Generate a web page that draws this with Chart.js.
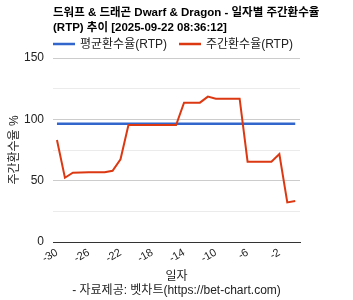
<!DOCTYPE html>
<html>
<head>
<meta charset="utf-8">
<script src="https://cdn.jsdelivr.net/npm/chart.js@4/dist/chart.umd.min.js"></script>
<style>
  html, body { margin: 0; padding: 0; background: #fff; }
  #wrap { width: 353px; height: 300px; }
</style>
</head>
<body>
<div id="wrap"><canvas id="myChart"></canvas></div>
<script>
// chart data
const days = [-30, -29, -28, -27, -26, -25, -24, -23, -22, -21, -20, -19, -18, -17, -16, -15,
              -14, -13, -12, -11, -10, -9, -8, -7, -6, -5, -4, -3, -2, -1, 0];
const avgRtp = [96.4, 96.4, 96.4, 96.4, 96.4, 96.4, 96.4, 96.4, 96.4, 96.4, 96.4, 96.4, 96.4, 96.4, 96.4, 96.4,
                96.4, 96.4, 96.4, 96.4, 96.4, 96.4, 96.4, 96.4, 96.4, 96.4, 96.4, 96.4, 96.4, 96.4, 96.4];
const weeklyRtp = [83.2, 52.4, 56.5, 56.6, 56.8, 56.8, 56.9, 58.1, 67.4, 95.4, 95.4, 95.4, 95.4, 95.4, 95.4, 95.4,
                   113.6, 113.6, 113.6, 118.5, 116.8, 116.8, 116.8, 116.8, 65.5, 65.5, 65.5, 65.5, 71.7, 32.3, 33.4];
const xTicks = [-30, -26, -22, -18, -14, -10, -6, -2];
const yTicks = [0, 25, 50, 75, 100, 125, 150];
const seriesNames = ['평균환수율(RTP)', '주간환수율(RTP)'];
const titleLines = ['드워프 & 드래곤 Dwarf & Dragon - 일자별 주간환수율', '(RTP) 추이 [2025-09-22 08:36:12]'];

const FONT = "'Liberation Sans', Arial, 'Noto Sans CJK KR', sans-serif";

// title + legend drawn above the plot, left aligned with the chart area
const header = {
  id: 'header',
  afterDraw(chart) {
    const ctx = chart.ctx;
    const left = chart.chartArea.left;
    ctx.save();
    ctx.textBaseline = 'middle';
    ctx.fillStyle = '#000';
    ctx.font = `bold 11.5px ${FONT}`;
    titleLines.forEach((t, i) => ctx.fillText(t, left, 13 + i * 14.5));

    ctx.font = `12px ${FONT}`;
    let x = left;
    chart.data.datasets.forEach(ds => {
      ctx.strokeStyle = ds.borderColor;
      ctx.lineWidth = 2.5;
      ctx.beginPath();
      ctx.moveTo(x, 44);
      ctx.lineTo(x + 22, 44);
      ctx.stroke();
      ctx.fillStyle = '#222';
      ctx.fillText(ds.label, x + 27, 44.5);
      x += 27 + ctx.measureText(ds.label).width + 12;
    });
    ctx.restore();
  }
};

new Chart(document.getElementById('myChart'), {
  type: 'line',
  data: {
    datasets: [
      {
        label: seriesNames[0],
        data: days.map((d, i) => ({ x: d, y: avgRtp[i] })),
        borderColor: '#3366cc',
        borderWidth: 2.5,
        pointRadius: 0,
        order: 1
      },
      {
        label: seriesNames[1],
        data: days.map((d, i) => ({ x: d, y: weeklyRtp[i] })),
        borderColor: '#dc3912',
        borderWidth: 2,
        pointRadius: 0,
        order: 0
      }
    ]
  },
  options: {
    responsive: true,
    maintainAspectRatio: false,
    animation: false,
    layout: { padding: { top: 58, right: 53, left: 0, bottom: 0 } },
    plugins: {
      legend: { display: false },
      title: { display: false },
      tooltip: { enabled: false }
    },
    scales: {
      x: {
        type: 'linear',
        min: -30.5,
        max: 0.6,
        afterBuildTicks: s => { s.ticks = xTicks.map(v => ({ value: v })); },
        afterFit: s => { s.height = 58; },
        grid: { display: false, drawTicks: false },
        border: { color: '#333', width: 1 },
        ticks: {
          autoSkip: false,
          minRotation: 30,
          maxRotation: 30,
          padding: 4,
          color: '#222',
          font: { family: FONT, size: 11 }
        },
        title: {
          display: true,
          text: ['일자', '- 자료제공: 벳차트(https://bet-chart.com)'],
          color: '#222',
          font: { family: FONT, size: 12 },
          padding: { top: 0, bottom: 2 }
        }
      },
      y: {
        min: 0,
        max: 150,
        afterBuildTicks: s => { s.ticks = yTicks.map(v => ({ value: v })); },
        afterFit: s => { s.width = 53; },
        grid: {
          drawTicks: false,
          color: c => c.tick.value === 0 ? '#333' : (c.tick.value % 50 === 0 ? '#cccccc' : '#ebebeb')
        },
        border: { display: false },
        ticks: {
          padding: 9,
          color: '#222',
          font: { family: FONT, size: 12 },
          callback: v => v % 50 === 0 ? v : ''
        },
        title: {
          display: true,
          text: '주간환수율 %',
          color: '#222',
          font: { family: FONT, size: 12 },
          padding: { top: 7, bottom: 0 }
        }
      }
    }
  },
  plugins: [header]
});
</script>
</body>
</html>
